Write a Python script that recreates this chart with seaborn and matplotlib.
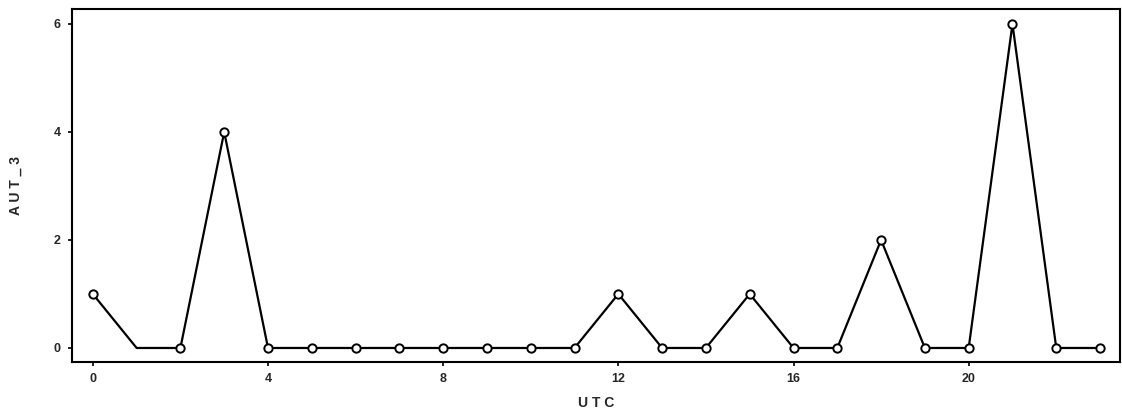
import matplotlib
matplotlib.use("Agg")
import matplotlib.pyplot as plt
import seaborn as sns
import pandas as pd

utc = list(range(24))
aut_3 = [1, 0, 0, 4, 0, 0, 0, 0, 0, 0, 0, 0, 1, 0, 0, 1, 0, 0, 2, 0, 0, 6, 0, 0]
x_ticks = [0, 4, 8, 12, 16, 20]
y_ticks = [0, 2, 4, 6]

sns.set_theme(style="white")
plt.rcParams['font.family'] = ['Liberation Sans', 'DejaVu Sans']

df = pd.DataFrame({"UTC": utc, "AUT_3": aut_3})

fig = plt.figure(figsize=(11.22, 4.19), dpi=100)
ax = fig.add_axes([0.064, 0.136, 0.934, 0.843])

marked = [i for i in range(len(utc)) if i != 1]
sns.lineplot(data=df, x="UTC", y="AUT_3", ax=ax, color="black", linewidth=1.6,
             marker="o", markersize=6, markerfacecolor="white",
             markeredgecolor="black", markeredgewidth=1.4, markevery=marked)

ax.set_xlim(-0.48, 23.45)
ax.set_ylim(-0.26, 6.28)
ax.set_xticks(x_ticks)
ax.set_yticks(y_ticks)
ax.set_xticklabels([str(t) for t in x_ticks], fontsize=9, fontweight="bold")
ax.set_yticklabels([str(t) for t in y_ticks], fontsize=9, fontweight="bold")
ax.tick_params(axis="both", direction="out", length=3, width=1.2, color="black",
               pad=5, bottom=True, left=True)
ax.set_xlabel("U T C", fontsize=10, fontweight="bold", labelpad=8)
ax.set_ylabel("A U T _ 3", fontsize=10, fontweight="bold", labelpad=22)
for s in ax.spines.values():
    s.set_color("black")
    s.set_linewidth(1.5)

fig.savefig("out.png", dpi=100)
